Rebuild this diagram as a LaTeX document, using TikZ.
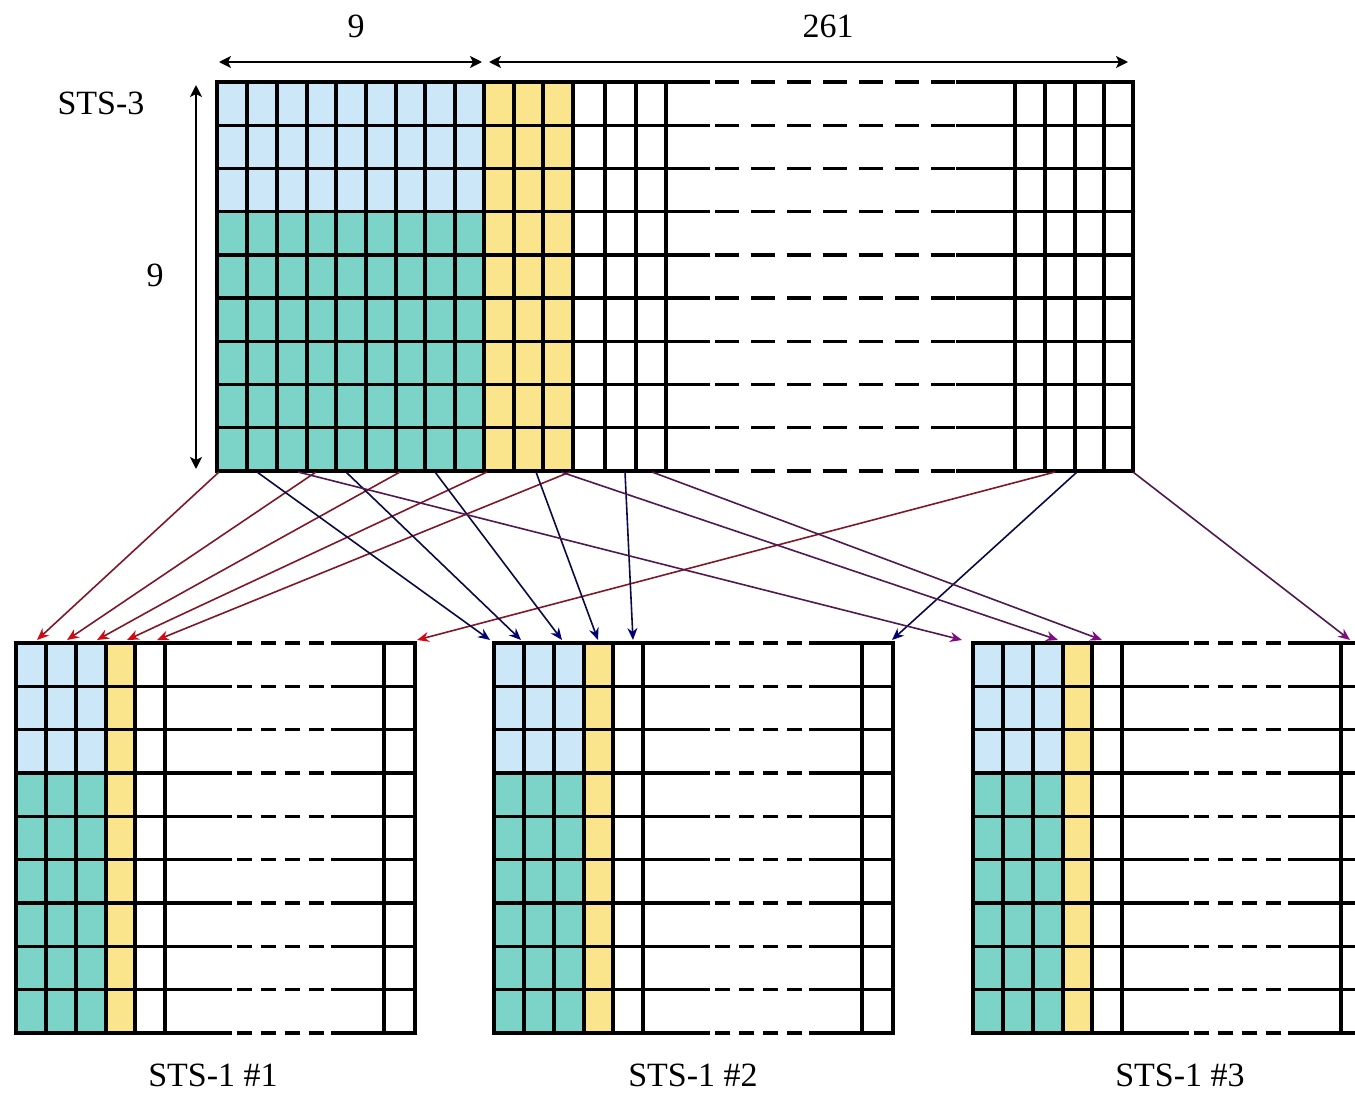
\documentclass[tikz,border=0pt]{standalone}
\usepackage{fontspec}
\setmainfont{Liberation Serif}
\usetikzlibrary{arrows.meta}

\definecolor{ohlight}{RGB}{204,231,247}
\definecolor{ohteal}{RGB}{124,211,199}
\definecolor{pohyellow}{RGB}{250,228,140}
\definecolor{redline}{RGB}{128,24,40}
\definecolor{redtip}{RGB}{210,10,20}
\definecolor{blueline}{RGB}{10,10,70}
\definecolor{bluetip}{RGB}{0,0,120}
\definecolor{purpline}{RGB}{80,25,80}
\definecolor{purptip}{RGB}{130,10,130}

\tikzset{
  gridline/.style={line width=3.3pt, black, line cap=rect},
  biggap/.style={line width=3.3pt, black, dash pattern=on 24pt off 12pt, dash phase=29pt},
  smallgap/.style={line width=3.3pt, black, dash pattern=on 15pt off 9pt, dash phase=17pt},
  dimarrow/.style={line width=2.6pt, black,
    {Stealth[length=12pt,width=12pt,inset=3pt]}-{Stealth[length=12pt,width=12pt,inset=3pt]}},
  tored/.style={line width=1.6pt, redline, -{Stealth[length=12pt,width=10pt,color=redtip]}},
  toblue/.style={line width=1.6pt, blueline, -{Stealth[length=12pt,width=10pt,color=bluetip]}},
  topurple/.style={line width=1.6pt, purpline, -{Stealth[length=12pt,width=10pt,color=purptip]}},
  caption/.style={font=\fontsize{34}{40}\selectfont, inner sep=0pt},
}

% one STS-1 frame, #1 = left edge
\newcommand{\stsoneframe}[1]{%
  \fill[ohlight] (#1,643) rectangle ++(90,130);
  \fill[ohteal] (#1,773) rectangle ++(90,260);
  \fill[pohyellow] ({#1+90},643) rectangle ++(29,390);
  \foreach \dx in {0,30,60,90,119,149,368,399}
    \draw[gridline] ({#1+\dx},643) -- ({#1+\dx},1033);
  \foreach \k in {0,...,9} {
    \pgfmathsetmacro\yy{643+\k*43.333}
    \draw[gridline] (#1,\yy) -- ({#1+214},\yy);
    \draw[smallgap] ({#1+214},\yy) -- ({#1+317},\yy);
    \draw[gridline] ({#1+317},\yy) -- ({#1+399},\yy);
  }
}

\begin{document}
\begin{tikzpicture}[x=1pt,y=-1pt]
\useasboundingbox (0,0) rectangle (1355,1093);
\clip (0,0) rectangle (1355,1093);
\fill[white] (0,0) rectangle (1355,1093);

% ---- STS-3 frame ----
\fill[ohlight] (217,82) rectangle (484,212);
\fill[ohteal] (217,212) rectangle (484,471);
\fill[pohyellow] (484,82) rectangle (573,471);
\foreach \x in {217,247,277,307,336,366,396,425,455,484,514,543,573,605,636,666,1015,1045,1075,1104,1133}
  \draw[gridline] (\x,82) -- (\x,471);
\foreach \k in {0,...,9} {
  \pgfmathsetmacro\yy{82+\k*43.222}
  \draw[gridline] (217,\yy) -- (708,\yy);
  \draw[biggap] (708,\yy) -- (958,\yy);
  \draw[gridline] (958,\yy) -- (1133,\yy);
}

% dimensions of the STS-3 frame
\coordinate (ohl) at (219,62);
\coordinate (ohr) at (482,62);
\coordinate (pl) at (489,62);
\coordinate (pr) at (1128,62);
\coordinate (vt) at (196,85);
\coordinate (vb) at (196,469);
\draw[dimarrow] (ohl) -- (ohr);
\draw[dimarrow] (pl) -- (pr);
\draw[dimarrow] (vt) -- (vb);
\node[caption] (ninecols) at (356,26) {9};
\node[caption] (payloadcols) at (828,26) {261};
\node[caption] (ststhree) at (101,103) {STS-3};
\node[caption] (ninerows) at (155,275) {9};

% ---- three STS-1 frames ----
\stsoneframe{16}
\stsoneframe{494}
\stsoneframe{973}
\node[caption] (stsone1) at (213,1075) {STS-1 \#1};
\node[caption] (stsone2) at (693,1075) {STS-1 \#2};
\node[caption] (stsone3) at (1180,1075) {STS-1 \#3};

% ---- byte de-interleaving ----
% columns going to STS-1 #1
\coordinate (rs1) at (219,472);  \coordinate (rt1) at (37,640);
\coordinate (rs2) at (316,472);  \coordinate (rt2) at (67,640);
\coordinate (rs3) at (400,472);  \coordinate (rt3) at (97,640);
\coordinate (rs4) at (487,472);  \coordinate (rt4) at (127,640);
\coordinate (rs5) at (570,472);  \coordinate (rt5) at (157,640);
\coordinate (rs6) at (1055,472); \coordinate (rt6) at (417,640);
% columns going to STS-1 #2
\coordinate (bs1) at (257,472);  \coordinate (bt1) at (490,640);
\coordinate (bs2) at (346,472);  \coordinate (bt2) at (521,640);
\coordinate (bs3) at (435,472);  \coordinate (bt3) at (562,640);
\coordinate (bs4) at (536,472);  \coordinate (bt4) at (598,640);
\coordinate (bs5) at (625,472);  \coordinate (bt5) at (633,640);
\coordinate (bs6) at (1077,472); \coordinate (bt6) at (892,640);
% columns going to STS-1 #3
\coordinate (ps1) at (298,472);  \coordinate (pt1) at (962,640);
\coordinate (ps2) at (561,472);  \coordinate (pt2) at (1058,640);
\coordinate (ps3) at (652,472);  \coordinate (pt3) at (1102,640);
\coordinate (ps4) at (1133,472); \coordinate (pt4) at (1350,640);

\foreach \i in {1,...,6} \draw[tored] (rs\i) -- (rt\i);
\foreach \i in {1,...,6} \draw[toblue] (bs\i) -- (bt\i);
\foreach \i in {1,...,4} \draw[topurple] (ps\i) -- (pt\i);
\end{tikzpicture}
\end{document}
